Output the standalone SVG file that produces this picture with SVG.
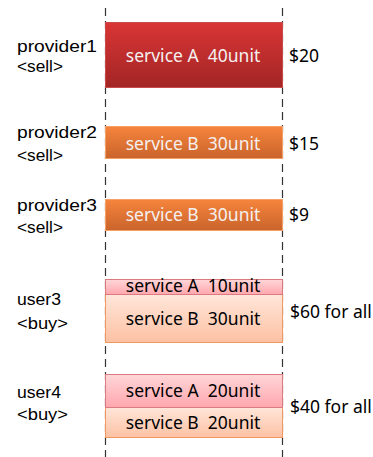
<svg xmlns="http://www.w3.org/2000/svg" width="373" height="457" viewBox="0 0 373 457">
<defs>
<linearGradient id="gRed" x1="0" y1="0" x2="0" y2="1"><stop offset="0" stop-color="#d93535"/><stop offset="1" stop-color="#a32525"/></linearGradient>
<linearGradient id="gOr" x1="0" y1="0" x2="0" y2="1"><stop offset="0" stop-color="#f6843c"/><stop offset="1" stop-color="#c9642c"/></linearGradient>
<linearGradient id="gPink" x1="0" y1="0" x2="0" y2="1"><stop offset="0" stop-color="#ffd6d8"/><stop offset="1" stop-color="#ffa7ae"/></linearGradient>
<linearGradient id="gPeach" x1="0" y1="0" x2="0" y2="1"><stop offset="0" stop-color="#ffe6da"/><stop offset="1" stop-color="#fdc1a3"/></linearGradient>
</defs>
<style>
text{font-family:"Noto Sans","Liberation Sans",sans-serif;font-size:17.5px;fill:#000;white-space:pre}
.lbl{font-family:"Liberation Sans",sans-serif;font-size:16.5px}
.in{text-anchor:middle}
.w{fill:#f4f0f0}
.dash{stroke:#333;stroke-width:1.2;stroke-dasharray:8,5;fill:none}
.red{fill:url(#gRed);stroke:#c94a4a;stroke-width:1}
.or{fill:url(#gOr);stroke:#f7a066;stroke-width:1}
.pink{fill:url(#gPink);stroke:#dc7a80;stroke-width:1}
.peach{fill:url(#gPeach);stroke:#f2975f;stroke-width:1}
</style>
<g id="connectors">
<line class="dash" x1="105.5" y1="8" x2="105.5" y2="457"/>
<line class="dash" x1="282.5" y1="8" x2="282.5" y2="457"/>
</g>
<g id="provider1">
<text class="lbl" x="17" y="52" textLength="80" lengthAdjust="spacingAndGlyphs">provider1</text>
<text class="lbl" x="17" y="72" textLength="46" lengthAdjust="spacingAndGlyphs">&lt;sell&gt;</text>
<rect class="red" x="105.5" y="22.5" width="177" height="65"/>
<text class="in w" x="193" y="62">service A  40unit</text>
<text x="289" y="62">$20</text>
</g>
<g id="provider2">
<text class="lbl" x="17" y="137.5" textLength="80" lengthAdjust="spacingAndGlyphs">provider2</text>
<text class="lbl" x="17" y="161" textLength="46" lengthAdjust="spacingAndGlyphs">&lt;sell&gt;</text>
<rect class="or" x="105.5" y="126.5" width="177" height="32"/>
<text class="in w" x="193" y="149.5">service B  30unit</text>
<text x="289" y="149.5">$15</text>
</g>
<g id="provider3">
<text class="lbl" x="17" y="211" textLength="80" lengthAdjust="spacingAndGlyphs">provider3</text>
<text class="lbl" x="17" y="233" textLength="46" lengthAdjust="spacingAndGlyphs">&lt;sell&gt;</text>
<rect class="or" x="105.5" y="199.5" width="177" height="31"/>
<text class="in w" x="193" y="221">service B  30unit</text>
<text x="289" y="221">$9</text>
</g>
<g id="user3">
<text class="lbl" x="17" y="305" textLength="44" lengthAdjust="spacingAndGlyphs">user3</text>
<text class="lbl" x="17" y="328.5" textLength="51" lengthAdjust="spacingAndGlyphs">&lt;buy&gt;</text>
<rect class="peach" x="105.5" y="294.5" width="177" height="48"/>
<rect class="pink" x="105.5" y="279.5" width="177" height="15"/>
<text class="in" x="193" y="292">service A  10unit</text>
<text class="in" x="193" y="324.5">service B  30unit</text>
<text x="290" y="317.5">$60 for all</text>
</g>
<g id="user4">
<text class="lbl" x="17" y="398" textLength="44" lengthAdjust="spacingAndGlyphs">user4</text>
<text class="lbl" x="17" y="420" textLength="51" lengthAdjust="spacingAndGlyphs">&lt;buy&gt;</text>
<rect class="peach" x="105.5" y="407.5" width="177" height="30"/>
<rect class="pink" x="105.5" y="374.5" width="177" height="33"/>
<text class="in" x="193" y="397">service A  20unit</text>
<text class="in" x="193" y="428.5">service B  20unit</text>
<text x="290" y="413">$40 for all</text>
</g>
</svg>
